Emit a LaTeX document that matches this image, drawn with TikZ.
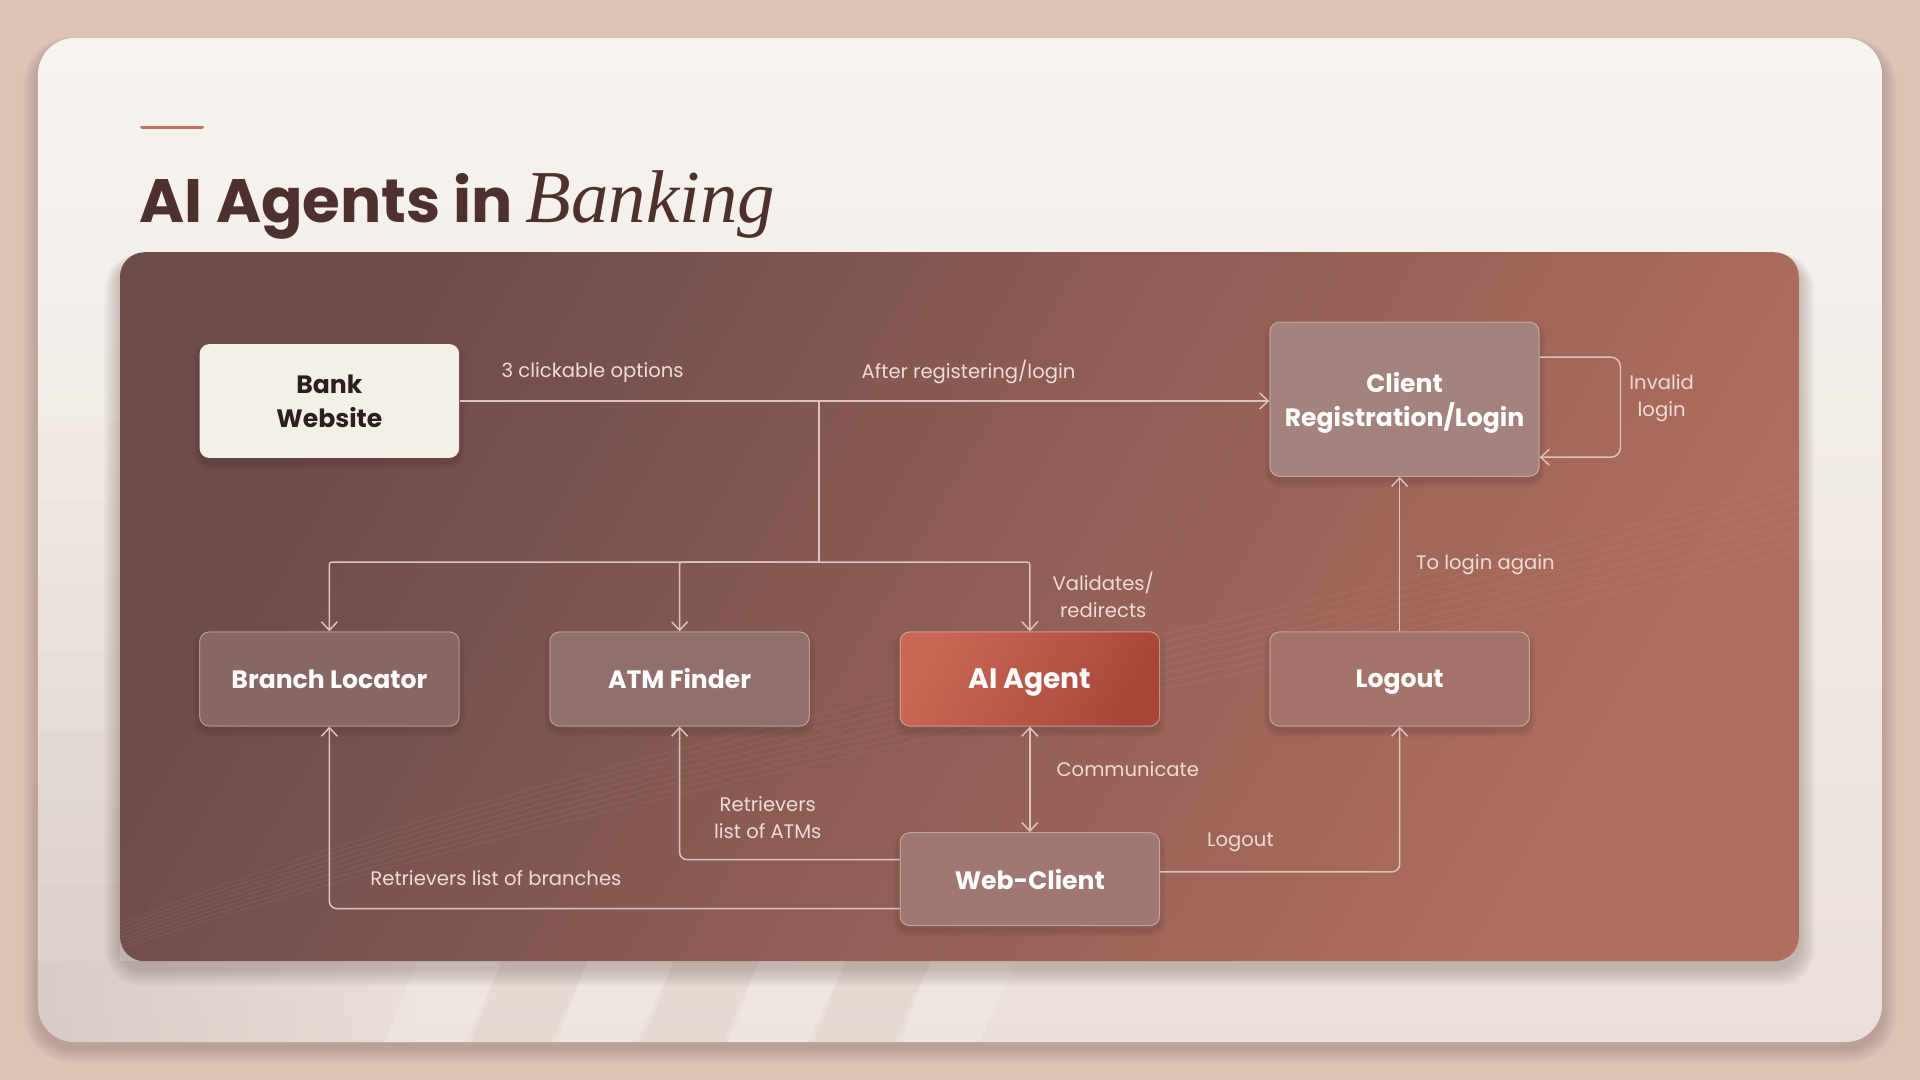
\documentclass[tikz,border=0pt]{standalone}
\usepackage{fontspec}
\setmainfont{Poppins}
\newfontfamily\serifit{Liberation Serif}
\usetikzlibrary{arrows.meta,calc}
\definecolor{pagebg}{HTML}{DCC3B6}
\definecolor{cardtop}{HTML}{F7F4F0}
\definecolor{cardbot}{HTML}{EADFD8}
\definecolor{paneltl}{HTML}{6C4B4B}
\definecolor{panelbr}{HTML}{B06E5E}
\definecolor{titlec}{HTML}{4E3030}
\definecolor{accent}{HTML}{C87060}
\definecolor{linec}{HTML}{DCC4BC}
\definecolor{labelc}{HTML}{EEDDD6}
\definecolor{bankfill}{HTML}{F3EFE9}
\definecolor{banktext}{HTML}{2E1F1F}
\definecolor{agentl}{HTML}{C96756}
\definecolor{agentr}{HTML}{A9463A}
\definecolor{shadowc}{HTML}{3A2020}
\begin{document}
\begin{tikzpicture}[x=1pt,y=-1pt,
  box/.style={draw=white!70!pagebg, draw opacity=0.45, rounded corners=8pt,
    minimum width=212pt, minimum height=77pt, text=white, align=center,
    font=\fontsize{20.5}{28}\selectfont\bfseries, line width=0.8pt},
  conn/.style={draw=linec, line width=1.2pt, rounded corners=6pt},
  barb/.tip={Straight Barb[length=7pt,width=13pt,line width=1.2pt]},
  tip/.style={-barb},
  lbl/.style={text=labelc, font=\fontsize{16}{22}\selectfont, align=center, inner sep=0pt}]
\useasboundingbox (0,0) rectangle (1568,882);
% page background
\fill[pagebg] (0,0) rectangle (1568,882);
% card shadow
\foreach \k in {1,...,10}{
  \fill[shadowc, opacity=0.02, rounded corners={30pt+\k*1pt}] ({31-\k*1.2},{31-\k*0.6+5}) rectangle ({1537+\k*1.2},{851+\k*1.2+5});
}
% card
\shade[top color=cardtop, bottom color=cardbot, rounded corners=30pt] (31,31) rectangle (1537,851);
% faint decoration on card
\begin{scope}
  \clip[rounded corners=30pt] (31,31) rectangle (1537,851);
  \shade[left color=titlec!22!cardbot, right color=cardbot, opacity=0.5] (31,785) rectangle (340,851);
  \foreach \a/\b in {340/410, 480/550, 620/690, 760/830}{
    \fill[white, opacity=0.18] (\a,785) -- (\b,785) -- (\b-30,851) -- (\a-25,851) -- cycle;
  }
  \foreach \a/\b in {410/480, 550/620, 690/760}{
    \fill[titlec, opacity=0.03] (\a,785) -- (\b,785) -- (\b-30,851) -- (\a-25,851) -- cycle;
  }
  \foreach \k in {0,...,6}{
    \fill[titlec, opacity={0.012*(\k+1)}] (31,{345+\k*62.857}) rectangle (98,{345+(\k+1)*62.857});
  }
\end{scope}
% accent and title
\draw[accent, line width=3pt, line cap=round] (116,104) -- (165,104);
\node[anchor=base west, inner sep=0pt, text=titlec] (title) at (114,182)
  {\fontsize{50}{60}\selectfont\bfseries AI Agents in \serifit\itshape\mdseries\fontsize{61}{60}\selectfont Banking};
% panel shadow
\foreach \k in {1,...,10}{
  \fill[shadowc, opacity=0.025, rounded corners={20pt+\k*1pt}] ({98-\k*1.3},{206-\k*0.5+6}) rectangle ({1469+\k*1.3},{785+\k*1.4+6});
}
% panel
\shade[left color=paneltl, right color=panelbr, shading angle=60, rounded corners=20pt]
  (98,206) rectangle (1469,785);
\begin{scope}
  \clip[rounded corners=20pt] (98,206) rectangle (1469,785);
  \foreach \k in {0,...,7}{
    \draw[white, opacity=0.07, line width=0.6pt] (98,{775-\k*3}) .. controls (500,{640-\k*6}) and (1000,{560-\k*6}) .. (1469,{450-\k*8});
  }
\end{scope}
% node shadows
\foreach \cx/\cy/\w/\h in {269/327.5/212/93, 1147/326/220/126, 269/554.5/212/77, 555/554.5/212/77, 841/554.5/212/77, 1143/554.5/212/77, 841/718/212/76}{
  \foreach \k in {1,...,5}{
    \fill[shadowc, opacity=0.03, rounded corners={8pt+\k*1pt}] ({\cx-\w/2-\k},{\cy-\h/2-\k+4}) rectangle ({\cx+\w/2+\k},{\cy+\h/2+\k+4});
  }
}
% nodes
\node[box, fill=bankfill, text=banktext, draw=none, minimum height=93pt] (bank) at (269,327.5) {Bank\\Website};
\node[box, fill=white!35!paneltl!70!panelbr, minimum width=220pt, minimum height=126pt, text depth=0pt] (client) at (1147,326) {Client\\Registration/Login};
\node[box, fill=white!15!paneltl!90!panelbr] (branch) at (269,554.5) {Branch Locator};
\node[box, fill=white!20!paneltl!80!panelbr] (atm) at (555,554.5) {ATM Finder};
\node[box, left color=agentl, right color=agentr, shading angle=60, text depth=0pt, font=\fontsize{23}{28}\selectfont\bfseries] (agent) at (841,554.5) {AI Agent};
\node[box, fill=white!26!paneltl!40!panelbr, text depth=0pt] (logout) at (1143,554.5) {Logout};
\node[box, fill=white!28!paneltl!60!panelbr, minimum height=76pt] (web) at (841,718) {Web-Client};
% connectors
\coordinate (j1) at (669,327);
\coordinate (j2) at (669,459);
\draw[conn, tip] (bank.east) -- (bank.east -| client.west);
\draw[conn] (j1) -- (j2);
\draw[conn, tip, rounded corners=2pt] (j2) -| (branch.north);
\draw[conn, tip, rounded corners=2pt] (j2) -| (atm.north);
\draw[conn, tip, rounded corners=2pt] (j2) -| (agent.north);
\draw[conn, tip, rounded corners=8pt] ($(client.north east)+(0,29)$) -- ++(66,0) |- ($(client.south east)+(0,-16)$);
\draw[conn, tip] (logout.north) -- (logout.north |- client.south);
\draw[conn, barb-barb] (agent.south) -- (web.north);
\draw[conn, tip] ($(web.west)+(0,-16)$) -| (atm.south);
\draw[conn, tip] ($(web.west)+(0,24)$) -| (branch.south);
\draw[conn, tip] ($(web.east)+(0,-6)$) -| (logout.south);
% labels
\node[lbl] (l1) at (484,304) {3 clickable options};
\node[lbl] (l2) at (791,304) {After registering/login};
\node[lbl] (l3) at (1357,325) {Invalid\\login};
\node[lbl] (l4) at (1213,461) {To login again};
\node[lbl] (l5) at (901,486) {Validates/\\redirects};
\node[lbl] (l6) at (921,628) {Communicate};
\node[lbl] (l7) at (627,668) {Retrievers\\list of ATMs};
\node[lbl] (l8) at (405,717) {Retrievers list of branches};
\node[lbl] (l9) at (1013,688) {Logout};
\end{tikzpicture}
\end{document}
